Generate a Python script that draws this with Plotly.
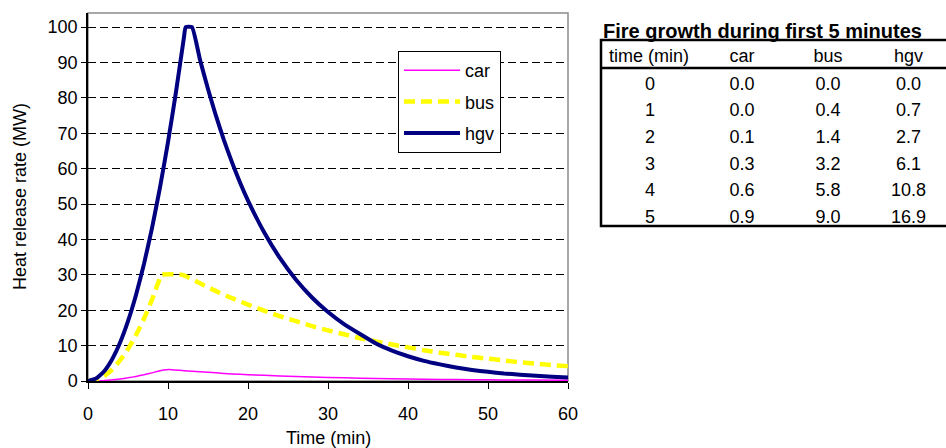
import plotly.graph_objects as go

# ---------------- data ----------------
car_t = [0, 1, 2, 3, 4, 5, 6, 7, 8, 9, 9.8, 10.5, 12, 14, 16, 18, 20, 24, 28, 32, 36, 40, 44, 48, 52, 56, 60]
car_v = [0, 0.04, 0.14, 0.32, 0.58, 0.9, 1.3, 1.76, 2.3, 2.9, 3.2, 3.2, 2.9, 2.6, 2.3, 2.0, 1.8, 1.4, 1.1, 0.9, 0.7, 0.55, 0.45, 0.37, 0.3, 0.25, 0.2]

bus_t = [0, 1, 2, 3, 4, 5, 6, 7, 8, 9, 9.13, 11.8, 14, 16, 18, 20, 22, 24, 26, 28, 30, 32, 34, 36, 38, 40, 42, 44, 46, 48, 50, 52, 54, 56, 58, 60]
bus_v = [0, 0.4, 1.4, 3.2, 5.8, 9.0, 13.0, 17.6, 23.0, 29.2, 30, 30, 27.6, 25.4, 23.4, 21.6, 19.9, 18.3, 16.9, 15.5, 14.3, 13.2, 12.1, 11.2, 10.3, 9.5, 8.7, 8.0, 7.4, 6.8, 6.3, 5.8, 5.3, 4.9, 4.5, 4.2]

hgv_t = [0, 1, 2, 3, 4, 5, 6, 7, 8, 9, 10, 11, 12, 12.2, 13, 14, 15, 16, 17, 18, 19, 20, 22, 24, 26, 28, 30, 32, 34, 36, 38, 40, 42, 44, 46, 48, 50, 52, 54, 56, 58, 60]
hgv_v = [0, 0.7, 2.7, 6.1, 10.8, 16.9, 24.3, 33.1, 43.2, 54.7, 67.5, 81.7, 97.2, 100, 100, 90.8, 82.5, 74.9, 68.0, 61.8, 56.1, 51.0, 42.1, 34.7, 28.6, 23.6, 19.5, 16.1, 13.3, 10.6, 8.6, 7.0, 5.7, 4.7, 3.8, 3.1, 2.6, 2.1, 1.8, 1.5, 1.2, 1.0]

x_ticks = [0, 10, 20, 30, 40, 50, 60]
y_ticks = [0, 10, 20, 30, 40, 50, 60, 70, 80, 90, 100]

table_title = "Fire growth during first 5 minutes"
table_header = ["time\u00a0(min)", "car", "bus", "hgv"]
table_time = ["0", "1", "2", "3", "4", "5"]
table_car = ["0.0", "0.0", "0.1", "0.3", "0.6", "0.9"]
table_bus = ["0.0", "0.4", "1.4", "3.2", "5.8", "9.0"]
table_hgv = ["0.0", "0.7", "2.7", "6.1", "10.8", "16.9"]

# ---------------- layout helpers (pixels -> paper) ----------------
W, H = 946, 448
def px(x):
    return x / W
def py(y):
    return 1 - y / H

PL, PR, PT, PB = 88, 568, 13, 381  # plot area in pixels
FONT = "Liberation Sans, Arial, sans-serif"

fig = go.Figure()

fig.add_trace(go.Scatter(x=car_t, y=car_v, mode="lines", name="car",
                         line=dict(color="#FF00FF", width=1.5, shape="spline", smoothing=0.4),
                         legendgroup="car"))
fig.add_trace(go.Scatter(x=bus_t, y=bus_v, mode="lines", name="bus",
                         line=dict(color="#FFFF00", width=4.5, dash="11px,6px", shape="spline", smoothing=0.4),
                         legendgroup="bus"))
fig.add_trace(go.Scatter(x=hgv_t, y=hgv_v, mode="lines", name="hgv",
                         line=dict(color="#000080", width=4, shape="spline", smoothing=0.4),
                         legendgroup="hgv"))

# table
tbl_x0, tbl_x1 = 601, 946
tbl_y0, tbl_y1 = 40, 226
fig.add_trace(go.Table(
    domain=dict(x=[px(tbl_x0), px(tbl_x1)], y=[py(tbl_y1 + 4), py(tbl_y0)]),
    columnwidth=[98, 86, 86, 75],
    header=dict(values=table_header,
                align=["left", "center", "center", "center"],
                font=dict(family=FONT, size=18, color="black"),
                fill_color="white", line=dict(width=0, color="white"), height=28),
    cells=dict(values=[table_time, table_car, table_bus, table_hgv],
               align="center",
               font=dict(family=FONT, size=18, color="black"),
               fill_color="white", line=dict(width=0, color="white"), height=26.7),
))

shapes = [
    # gray plot-area frame
    dict(type="rect", xref="paper", yref="paper", x0=px(PL), x1=px(PR), y0=py(PB), y1=py(PT),
         line=dict(color="#8c8c8c", width=1.5), layer="below"),
    # table borders
    dict(type="rect", xref="paper", yref="paper", x0=px(tbl_x0), x1=px(tbl_x1 + 4), y0=py(tbl_y1), y1=py(tbl_y0),
         line=dict(color="black", width=2.5)),
    dict(type="line", xref="paper", yref="paper", x0=px(tbl_x0), x1=px(tbl_x1 + 4), y0=py(68), y1=py(68),
         line=dict(color="black", width=2.5)),
]

annotations = [
    dict(text="Heat release rate (MW)", x=px(20), y=py((PT + PB) / 2), xref="paper", yref="paper",
         textangle=-90, showarrow=False, font=dict(family=FONT, size=18, color="black"),
         xanchor="center", yanchor="middle"),
    dict(text="Time (min)", x=px((PL + PR) / 2), y=py(438), xref="paper", yref="paper",
         showarrow=False, font=dict(family=FONT, size=18, color="black"),
         xanchor="center", yanchor="middle"),
    dict(text="<b><u>" + table_title + "</u></b>", x=px(601), y=py(31), xref="paper", yref="paper",
         showarrow=False, font=dict(family=FONT, size=20, color="black"),
         xanchor="left", yanchor="middle"),
]

fig.update_layout(
    width=W, height=H,
    margin=dict(l=0, r=0, t=0, b=0, autoexpand=False),
    paper_bgcolor="white", plot_bgcolor="white",
    font=dict(family=FONT, size=18, color="black"),
    xaxis=dict(domain=[px(PL), px(PR)], range=[0, 60], tickvals=x_ticks, automargin=False,
               showgrid=False, zeroline=False, showline=True, linecolor="black", linewidth=1.5,
               ticks="outside", ticklen=6, tickcolor="black", ticklabelstandoff=10,
               tickfont=dict(family=FONT, size=18, color="black")),
    yaxis=dict(domain=[py(PB), py(PT)], range=[0, 104], tickvals=y_ticks, automargin=False,
               showgrid=True, gridcolor="black", gridwidth=1, griddash="8px,4px",
               zeroline=False, showline=True, linecolor="black", linewidth=1.5,
               ticks="outside", ticklen=5, tickcolor="black",
               tickfont=dict(family=FONT, size=18, color="black")),
    showlegend=True,
    legend=dict(x=px(398), y=py(51), xanchor="left", yanchor="top",
                bgcolor="white", bordercolor="black", borderwidth=1,
                font=dict(family=FONT, size=18, color="black"),
                itemwidth=56, tracegroupgap=5, traceorder="grouped"),
    shapes=shapes,
    annotations=annotations,
)

fig.write_html("out.html", config={"displayModeBar": False},
               post_script="document.body.style.margin='0';document.body.style.overflow='hidden';")
